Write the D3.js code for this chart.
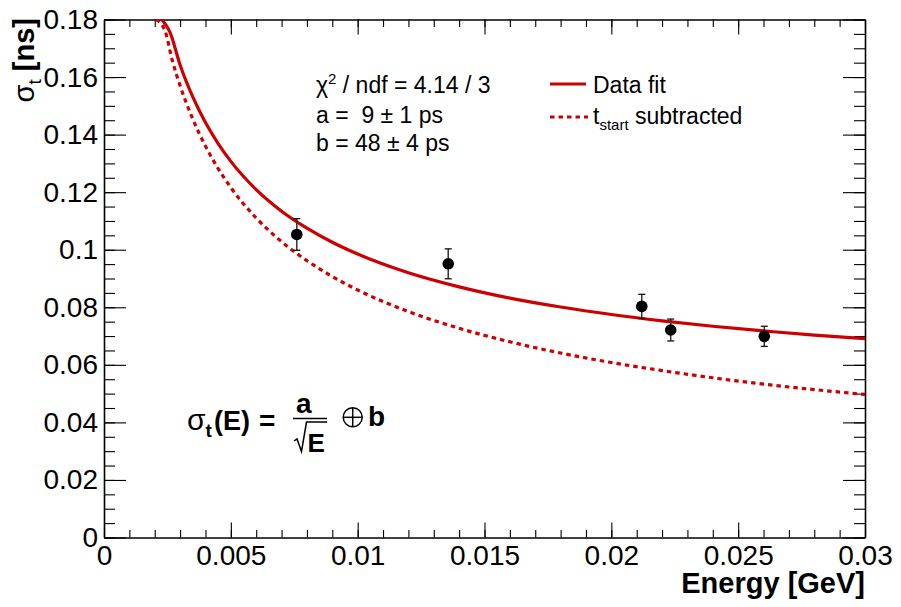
<!DOCTYPE html>
<html>
<head>
<meta charset="utf-8">
<script src="https://cdn.jsdelivr.net/npm/d3@7"></script>
<style>
  html, body { margin: 0; padding: 0; background: #fff; }
  svg { display: block; }
  text { font-family: "Liberation Sans", Arial, Helvetica, sans-serif; fill: #000; }
  .pre { white-space: pre; }
</style>
</head>
<body>
<svg id="chart" width="901" height="607"></svg>
<script>
// ---------------- data ----------------
const xTickValues = [0, 0.005, 0.01, 0.015, 0.02, 0.025, 0.03];
const xTickLabels = ["0", "0.005", "0.01", "0.015", "0.02", "0.025", "0.03"];
const yTickValues = [0, 0.02, 0.04, 0.06, 0.08, 0.1, 0.12, 0.14, 0.16, 0.18];
const yTickLabels = ["0", "0.02", "0.04", "0.06", "0.08", "0.1", "0.12", "0.14", "0.16", "0.18"];

// measured points
const pointE     = [0.0076, 0.01357, 0.0212, 0.02234, 0.02603];
const pointSigma = [0.1053, 0.0951, 0.0803, 0.0721, 0.0699];
const pointErr   = [0.0055, 0.0052, 0.0042, 0.0038, 0.0035];

// "Data fit" curve (solid)
const fitE = [0.00228, 0.0026, 0.0030, 0.0035, 0.0040, 0.0045, 0.0050, 0.0060, 0.0070,
              0.0080, 0.0090, 0.0100, 0.0120, 0.0140, 0.0160, 0.0180, 0.0200, 0.0220,
              0.0240, 0.0260, 0.0280, 0.0300];
const fitSigma = [0.1800, 0.1756, 0.1642, 0.1531, 0.1442, 0.1369, 0.1307, 0.1209, 0.1134,
                  0.1075, 0.1026, 0.0985, 0.0920, 0.0871, 0.0832, 0.0801, 0.0775, 0.0753,
                  0.0734, 0.0718, 0.0703, 0.0691];

// "t_start subtracted" curve (dotted)
const subE = [0.00205, 0.0024, 0.0027, 0.0030, 0.0035, 0.0040, 0.0045, 0.0050, 0.0060,
              0.0070, 0.0080, 0.0090, 0.0100, 0.0120, 0.0140, 0.0160, 0.0180, 0.0200,
              0.0220, 0.0240, 0.0260, 0.0280, 0.0300];
const subSigma = [0.1800, 0.1762, 0.1655, 0.1570, 0.1454, 0.1360, 0.1282, 0.1216, 0.1110,
                  0.1028, 0.0962, 0.0907, 0.0860, 0.0785, 0.0727, 0.0680, 0.0641, 0.0608,
                  0.0580, 0.0555, 0.0533, 0.0514, 0.0497];

const xMinorTicks = d3.range(0, 31).map(i => i / 1000);
const yMinorTicks = d3.range(0, 37).map(i => i * 0.005);

// ---------------- layout ----------------
const X0 = 104, X1 = 865, Y0 = 537.5, Y1 = 19.5;
const RED = "#cc0000";
const svg = d3.select("#chart");

const x = d3.scaleLinear().domain([0, 0.03]).range([X0, X1]);
const y = d3.scaleLinear().domain([0, 0.18]).range([Y0, Y1]);

svg.append("clipPath").attr("id", "plotclip")
  .append("rect").attr("x", X0).attr("y", Y1).attr("width", X1 - X0).attr("height", Y0 - Y1);

// ---------------- axes ----------------
function styleAxis(g) {
  g.selectAll("path.domain").attr("stroke", "#000").attr("stroke-width", 1.6);
  g.selectAll(".tick line").attr("stroke", "#000").attr("stroke-width", 1.1);
}
function minorStyle(g) {
  g.select(".domain").remove();
  g.selectAll(".tick line").attr("stroke", "#000").attr("stroke-width", 1.1);
}

svg.append("g").attr("transform", `translate(0,${Y0})`)
  .call(d3.axisBottom(x).tickValues(xMinorTicks).tickSizeInner(-7.5).tickSizeOuter(0).tickFormat(""))
  .call(minorStyle);
svg.append("g").attr("transform", `translate(0,${Y0})`)
  .call(d3.axisBottom(x).tickValues(xTickValues).tickSizeInner(-15).tickSizeOuter(0).tickPadding(8)
        .tickFormat((d, i) => xTickLabels[i]))
  .call(styleAxis)
  .call(g => g.selectAll("text").attr("font-size", 28).attr("font-family", "Liberation Sans, Arial, sans-serif"));

svg.append("g").attr("transform", `translate(0,${Y1})`)
  .call(d3.axisTop(x).tickValues(xMinorTicks).tickSizeInner(-7.5).tickSizeOuter(0).tickFormat(""))
  .call(minorStyle);
svg.append("g").attr("transform", `translate(0,${Y1})`)
  .call(d3.axisTop(x).tickValues(xTickValues).tickSizeInner(-15).tickSizeOuter(0).tickFormat(""))
  .call(styleAxis);

svg.append("g").attr("transform", `translate(${X0},0)`)
  .call(d3.axisLeft(y).tickValues(yMinorTicks).tickSizeInner(-11).tickSizeOuter(0).tickFormat(""))
  .call(minorStyle);
svg.append("g").attr("transform", `translate(${X0},0)`)
  .call(d3.axisLeft(y).tickValues(yTickValues).tickSizeInner(-22).tickSizeOuter(0).tickPadding(6)
        .tickFormat((d, i) => yTickLabels[i]))
  .call(styleAxis)
  .call(g => g.selectAll("text").attr("font-size", 28).attr("font-family", "Liberation Sans, Arial, sans-serif"));

svg.append("g").attr("transform", `translate(${X1},0)`)
  .call(d3.axisRight(y).tickValues(yMinorTicks).tickSizeInner(-11).tickSizeOuter(0).tickFormat(""))
  .call(minorStyle);
svg.append("g").attr("transform", `translate(${X1},0)`)
  .call(d3.axisRight(y).tickValues(yTickValues).tickSizeInner(-22).tickSizeOuter(0).tickFormat(""))
  .call(styleAxis);

// ---------------- axis titles ----------------
svg.append("text")
  .attr("x", X1).attr("y", 593)
  .attr("text-anchor", "end")
  .attr("font-size", 29).attr("font-weight", "bold")
  .text("Energy [GeV]");

const yt = svg.append("text")
  .attr("transform", "translate(34,18) rotate(-90)")
  .attr("text-anchor", "end");
yt.append("tspan").attr("font-size", 29).text("σ");
yt.append("tspan").attr("font-size", 19).attr("dy", 7).text("t");
yt.append("tspan").attr("font-size", 29).attr("font-weight", "bold").attr("dy", -7).attr("class", "pre").text(" [ns]");

// ---------------- curves ----------------
const line = d3.line().x(d => x(d[0])).y(d => y(d[1])).curve(d3.curveMonotoneX);
const plot = svg.append("g").attr("clip-path", "url(#plotclip)");

plot.append("path")
  .datum(subE.map((e, i) => [e, subSigma[i]]))
  .attr("d", line)
  .attr("fill", "none").attr("stroke", RED).attr("stroke-width", 3.2)
  .attr("stroke-dasharray", "4.5,4");

plot.append("path")
  .datum(fitE.map((e, i) => [e, fitSigma[i]]))
  .attr("d", line)
  .attr("fill", "none").attr("stroke", RED).attr("stroke-width", 3.2);

// ---------------- data points ----------------
const pts = svg.append("g");
pointE.forEach((e, i) => {
  const cx = x(e), cy = y(pointSigma[i]);
  const yt1 = y(pointSigma[i] + pointErr[i]), yb = y(pointSigma[i] - pointErr[i]);
  pts.append("line").attr("x1", cx).attr("x2", cx).attr("y1", yt1).attr("y2", yb)
    .attr("stroke", "#333").attr("stroke-width", 1.5);
  [yt1, yb].forEach(v => pts.append("line").attr("x1", cx - 3.5).attr("x2", cx + 3.5)
    .attr("y1", v).attr("y2", v).attr("stroke", "#111").attr("stroke-width", 1.3));
  pts.append("circle").attr("cx", cx).attr("cy", cy).attr("r", 5.8).attr("fill", "#000");
});

// ---------------- fit statistics text ----------------
const stats = svg.append("g").attr("font-size", 23);
const l1 = stats.append("text").attr("x", 316).attr("y", 93).attr("class", "pre");
l1.append("tspan").text("χ");
l1.append("tspan").attr("font-size", 15).attr("dy", -9).text("2");
l1.append("tspan").attr("dy", 9).text(" / ndf = 4.14 / 3");
stats.append("text").attr("x", 316).attr("y", 122.5).attr("class", "pre").text("a =  9 ± 1 ps");
stats.append("text").attr("x", 316).attr("y", 151).attr("class", "pre").text("b = 48 ± 4 ps");

// ---------------- legend ----------------
const leg = svg.append("g");
leg.append("line").attr("x1", 550).attr("x2", 586).attr("y1", 84).attr("y2", 84)
  .attr("stroke", RED).attr("stroke-width", 3.2);
leg.append("text").attr("x", 593).attr("y", 93).attr("font-size", 23).text("Data fit");
leg.append("line").attr("x1", 550).attr("x2", 588).attr("y1", 117).attr("y2", 117)
  .attr("stroke", RED).attr("stroke-width", 3.2).attr("stroke-dasharray", "4.5,4");
const l2 = leg.append("text").attr("x", 593).attr("y", 123.5).attr("font-size", 23).attr("class", "pre");
l2.append("tspan").text("t");
l2.append("tspan").attr("font-size", 15).attr("dy", 6).text("start");
l2.append("tspan").attr("dy", -6).text(" subtracted");

// ---------------- formula ----------------
const f = svg.append("g");
f.append("text").attr("x", 187).attr("y", 430).attr("font-size", 30).text("σ");
f.append("text").attr("x", 205.5).attr("y", 437).attr("font-size", 19).attr("font-weight", "bold").text("t");
f.append("text").attr("x", 214).attr("y", 430).attr("font-size", 27).attr("font-weight", "bold").text("(E)");
f.append("text").attr("x", 259).attr("y", 430).attr("font-size", 28).attr("font-weight", "bold").text("=");
f.append("text").attr("x", 296).attr("y", 412.5).attr("font-size", 28).attr("font-weight", "bold").text("a");
f.append("line").attr("x1", 293).attr("x2", 327).attr("y1", 418.5).attr("y2", 418.5)
  .attr("stroke", "#000").attr("stroke-width", 1.6);
f.append("path").attr("d", "M294,441 L297,439 L301.5,451.5 L306.5,422 L327,422")
  .attr("fill", "none").attr("stroke", "#000").attr("stroke-width", 1.5);
f.append("text").attr("x", 307.5).attr("y", 451.5).attr("font-size", 26).attr("font-weight", "bold").text("E");
f.append("circle").attr("cx", 352.7).attr("cy", 417.3).attr("r", 9.5)
  .attr("fill", "none").attr("stroke", "#000").attr("stroke-width", 1.5);
f.append("line").attr("x1", 343.2).attr("x2", 362.2).attr("y1", 417.3).attr("y2", 417.3)
  .attr("stroke", "#000").attr("stroke-width", 1.5);
f.append("line").attr("x1", 352.7).attr("x2", 352.7).attr("y1", 407.8).attr("y2", 426.8)
  .attr("stroke", "#000").attr("stroke-width", 1.5);
f.append("text").attr("x", 368).attr("y", 425.5).attr("font-size", 28).attr("font-weight", "bold").text("b");
</script>
</body>
</html>
